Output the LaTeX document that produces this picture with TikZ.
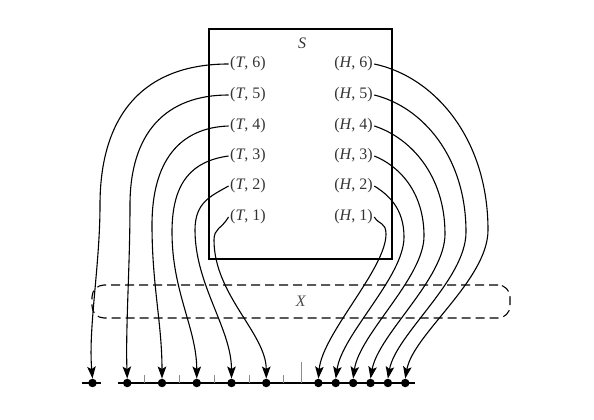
\documentclass[tikz,border=0pt]{standalone}
\usepackage{fontspec}
\setmainfont{Liberation Serif}
\usetikzlibrary{arrows.meta}
\begin{document}
\begin{tikzpicture}[x=1pt,y=1pt,
  lab/.style={font=\fontsize{16}{19}\selectfont, text=black!80, inner sep=1.5pt},
  wire/.style={line width=1.1pt, -{Stealth[length=12pt,width=8.5pt,inset=2.5pt]}},
  dotnode/.style={circle, fill=black, inner sep=0pt, minimum size=8.5pt},
  tickline/.style={black!45, line width=0.6pt},
  axisline/.style={line width=1.1pt}]
\useasboundingbox (0,0) rectangle (594,420);
% box S
\node[draw, line width=1.3pt, minimum width=183pt, minimum height=230pt, inner sep=0pt] (S) at (300.5,276) {};
\node[lab] (Slab) at (302,377) {\textit{S}};
% dashed set X
\node[draw, dash pattern=on 9pt off 5pt, line width=1.1pt, rounded corners=12pt,
      minimum width=418pt, minimum height=33pt, lab, text=black!70] (X) at (301,118.5) {\textit{X}};
% labels
\foreach \i/\y in {1/203,2/234,3/264,4/294,5/325,6/356}{
  \node[lab] (T\i) at (248,\y) {(\textit{T}, \i)};
  \node[lab] (H\i) at (353.5,\y) {(\textit{H}, \i)};
}
% axis
\def\d{34.75}
\draw[axisline] (82,37) -- (101,37);
\draw[axisline] (118,37) -- (415,37);
\foreach \k in {0.5,1.5,2.5,3.5,4.5}{
  \draw[tickline] ({301-\k*\d},37) -- ({301-\k*\d},45);
}
\draw[tickline] (301,37) -- (301,58);
\foreach \i in {1,...,6}{
  \node[dotnode] (t\i) at ({301-\i*\d},37) {};
  \node[dotnode] (h\i) at ({301+\i*\d/2},37) {};
}
% T wires
\draw[wire] (T6.west) to[out=180,in=90,out distance=85,in distance=90] (100,215)
  to[out=-90,in=95,out distance=60,in distance=50] (t6.north);
\draw[wire] (T5.west) to[out=180,in=90,out distance=63,in distance=72] (130,215)
  to[out=-90,in=92,out distance=60,in distance=50] (t5.north);
\draw[wire] (T4.west) to[out=182,in=90,out distance=49,in distance=64] (152,195)
  to[out=-90,in=90,out distance=60,in distance=55] (t4.north);
\draw[wire] (T3.west) to[out=188,in=90,out distance=36,in distance=51] (172,188)
  to[out=-90,in=90,out distance=60,in distance=50] (t3.north);
\draw[wire] (T2.west) to[out=210,in=90,out distance=20,in distance=28] (195,190)
  to[out=-90,in=90,out distance=55,in distance=50] (t2.north);
\draw[wire] (T1.west) to[out=240,in=90,out distance=14,in distance=12] (214,180)
  to[out=-90,in=90,out distance=55,in distance=45] (t1.north);
% H wires
\draw[wire] (H6.east) to[out=-12,in=90,out distance=62,in distance=91] (488,190)
  to[out=-90,in=80,out distance=50,in distance=45] (h6.north);
\draw[wire] (H5.east) to[out=-14,in=90,out distance=50,in distance=75] (466,188)
  to[out=-90,in=80,out distance=48,in distance=45] (h5.north);
\draw[wire] (H4.east) to[out=-18,in=90,out distance=38,in distance=59] (445,186)
  to[out=-90,in=80,out distance=45,in distance=45] (h4.north);
\draw[wire] (H3.east) to[out=-22,in=90,out distance=27,in distance=44] (424,184)
  to[out=-90,in=82,out distance=42,in distance=45] (h3.north);
\draw[wire] (H2.east) to[out=-32,in=90,out distance=16,in distance=29] (404,183)
  to[out=-90,in=82,out distance=40,in distance=45] (h2.north);
\draw[wire] (H1.east) to[out=-60,in=90,out distance=9,in distance=12] (386,186)
  to[out=-90,in=85,out distance=35,in distance=45] (h1.north);
\end{tikzpicture}
\end{document}
